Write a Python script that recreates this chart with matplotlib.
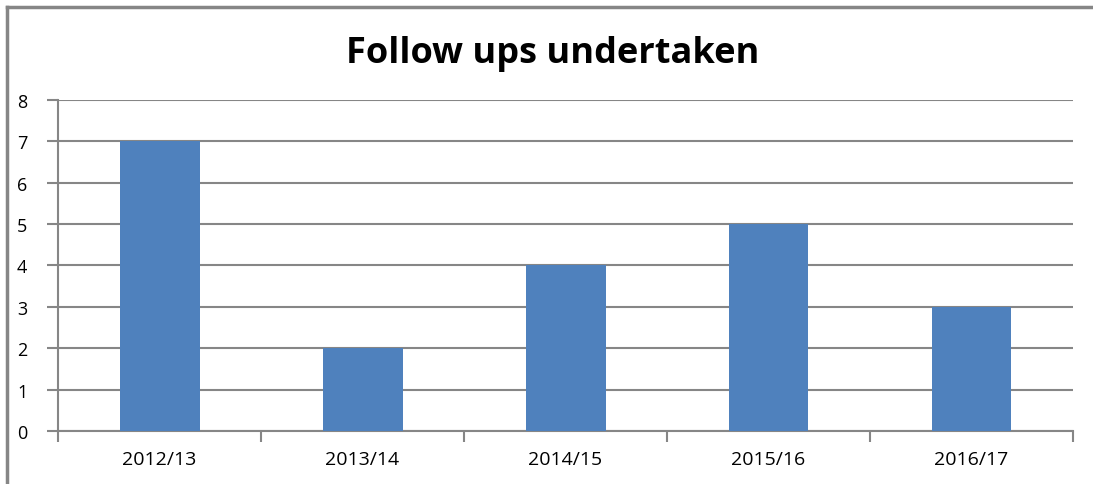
import matplotlib
matplotlib.use('Agg')
import matplotlib.pyplot as plt
from matplotlib.lines import Line2D
import numpy as np

YEARS = ['2012/13', '2013/14', '2014/15', '2015/16', '2016/17']
FOLLOW_UPS = [7, 2, 4, 5, 3]
GRID = '#868686'
BAR = '#4F81BD'

plt.rcParams['font.family'] = ['Open Sans', 'DejaVu Sans']

fig = plt.figure(figsize=(10.93, 4.85), dpi=100)
ax = fig.add_axes([0.0531, 0.1093, 0.9286, 0.6825])

x = np.arange(len(YEARS))
ax.bar(x, FOLLOW_UPS, 0.394, color=BAR, zorder=3)
ax.set_xlim(-0.5, len(YEARS) - 0.5)
ax.set_ylim(0, 8)
ax.set_yticks(range(0, 9))
ax.yaxis.grid(True, color=GRID, linewidth=1.5, zorder=0)
ax.set_xticks(x)
ax.set_xticklabels(YEARS, fontsize=14)
ax.set_xticks(np.arange(-0.5, len(YEARS)), minor=True)
ax.tick_params(axis='x', which='major', length=0, pad=14)
ax.tick_params(axis='x', which='minor', length=8, width=1.5, color=GRID)
ax.tick_params(axis='y', length=8, width=1.5, color=GRID, labelsize=13, pad=14)
for s in ['top', 'right']:
    ax.spines[s].set_visible(False)
for s in ['left', 'bottom']:
    ax.spines[s].set_color(GRID)
    ax.spines[s].set_linewidth(1.5)

fig.text(0.506, 0.889, 'Follow ups undertaken', ha='center', va='center',
         fontsize=26, fontweight='bold')

# outer chart border (left and top edges visible)
fig.add_artist(Line2D([0.0068, 0.0068], [0, 0.984], transform=fig.transFigure, color=GRID, lw=2.5))
fig.add_artist(Line2D([0.0068, 1.0], [0.984, 0.984], transform=fig.transFigure, color=GRID, lw=2.5))

fig.savefig('out.png', dpi=100)
